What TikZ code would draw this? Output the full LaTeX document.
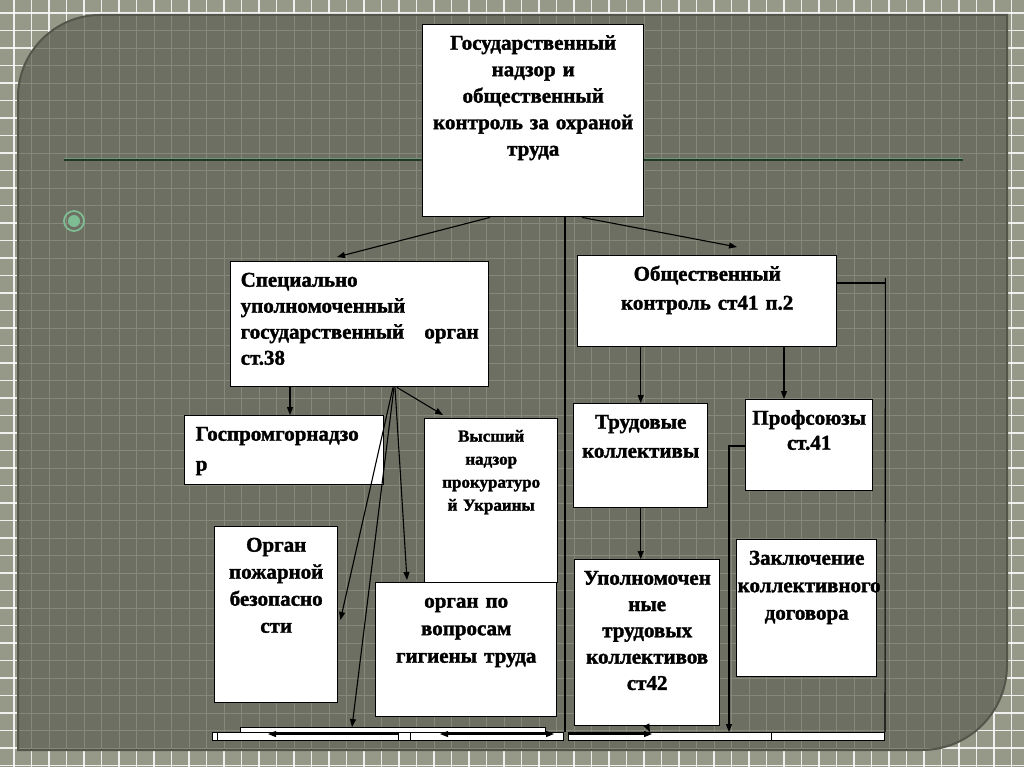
\documentclass[tikz,border=0pt]{standalone}
\usepackage{fontspec}
\setmainfont{Liberation Serif}[BoldFeatures={FakeBold=1.6}]
\usetikzlibrary{arrows.meta}
\usetikzlibrary{calc}

\definecolor{outerbg}{RGB}{150,153,136}
\definecolor{panelbg}{RGB}{109,111,98}
\definecolor{panelgrid}{RGB}{134,137,121}
\definecolor{panelrim}{RGB}{84,86,75}
\definecolor{sepline}{RGB}{36,56,42}
\definecolor{sepglow}{RGB}{112,150,120}
\definecolor{bulletc}{RGB}{126,188,148}

\newcommand{\panelshape}{(18,750) -- (18,97) .. controls (18,52) and (55,15) .. (100,15) -- (1007,15) -- (1007,665) .. controls (1007,712) and (969,750) .. (922,750) -- cycle}

\begin{document}
\begin{tikzpicture}[x=1pt,y=-1pt,
	blk/.style={draw, fill=white, line width=1.4pt, anchor=north west, inner sep=4pt, align=center, text height=21pt, font=\fontsize{21}{26.5}\selectfont\bfseries},
	strip/.style={draw, fill=white, line width=1pt, anchor=north west, inner sep=0pt, minimum height=8pt},
	arr/.style={line width=1.1pt, -{Triangle[length=8pt,width=6pt]}},
	ln/.style={line width=1.1pt}]
	\useasboundingbox (0,0) rectangle (1024,767);
	% slide background
	\fill[outerbg] (0,0) rectangle (1024,767);
	\foreach \k in {0,...,58} \draw[white, line width=1.3pt, opacity=0.85] (14+17.5*\k,0) -- ++(0,767);
	\foreach \k in {0,...,44} \draw[white, line width=1.3pt, opacity=0.85] (0,13+17.5*\k) -- ++(1024,0);
	\fill[panelbg] \panelshape;
	\begin{scope}
		\clip \panelshape;
		\foreach \k in {0,...,58} \draw[panelgrid, line width=0.8pt] (14+17.5*\k,0) -- ++(0,767);
		\foreach \k in {0,...,44} \draw[panelgrid, line width=0.8pt] (0,13+17.5*\k) -- ++(1024,0);
	\end{scope}
	\draw[panelrim, line width=2pt] \panelshape;
	\draw[sepglow, line width=0.8pt] (64,158) -- (963,158);
	\draw[sepline, line width=1.4pt] (64,160) -- (963,160);
	\draw[bulletc, line width=1.8pt] (74,221) circle [radius=10];
	\fill[bulletc] (74,221) circle [radius=6];

	% boxes
	\node[blk, text width=213pt, text depth=163pt] (gos) at (422,24) {Государственный\\надзор и\\общественный\\контроль за охраной\\труда};
	\node[blk, align=left, inner xsep=10pt, text width=238pt, text depth=96pt, font=\fontsize{21}{26}\selectfont\bfseries] (spec) at (230,261) {Специально\\уполномоченный\\государственный\hspace{0pt plus 1filll}орган\\ст.38};
	\node[blk, text width=251pt, text depth=62pt, font=\fontsize{21}{29}\selectfont\bfseries] (obsh) at (577,255) {Общественный\\контроль ст41 п.2};
	\node[blk, align=left, inner xsep=11pt, text width=177pt, text depth=40pt, font=\fontsize{21}{30}\selectfont\bfseries] (gpgn) at (184,415) {Госпромгорнадзо\\р};
	\node[blk, text width=125pt, text height=19pt, text depth=137pt, font=\fontsize{17}{23}\selectfont\bfseries] (vyssh) at (424,418) {Высший\\надзор\\прокуратуро\\й Украины};
	\node[blk, text width=115pt, text depth=147pt, font=\fontsize{21}{27}\selectfont\bfseries] (pozh) at (214,526) {Орган\\пожарной\\безопасно\\сти};
	\node[blk, text width=173pt, text depth=105pt, font=\fontsize{21}{27.5}\selectfont\bfseries] (gig) at (375,582) {орган по\\вопросам\\гигиены труда};
	\node[blk, text width=126pt, text depth=75pt, font=\fontsize{21}{29}\selectfont\bfseries] (trud) at (573,403) {Трудовые\\коллективы};
	\node[blk, text width=119pt, text depth=62pt, font=\fontsize{21}{25}\selectfont\bfseries] (prof) at (745,399) {Профсоюзы\\ст.41};
	\node[blk, text width=137pt, text depth=137pt, font=\fontsize{21}{26.3}\selectfont\bfseries] (upol) at (574,559) {Уполномочен\\ные\\трудовых\\коллективов\\ст42};
	\node[blk, inner xsep=1pt, text width=138pt, text depth=108pt, font=\fontsize{21}{27.5}\selectfont\bfseries] (zakl) at (736,539) {Заключение\\коллективного\\договора};

	% cut-off boxes at the slide edge
	\node[strip, minimum width=305pt, minimum height=5pt] (bt) at (240,727) {};
	\node[strip, minimum width=5pt] (b1) at (212,732) {};
	\node[strip, minimum width=181pt] (b2) at (217,732) {};
	\node[strip, minimum width=12pt] (b3) at (398,732) {};
	\node[strip, minimum width=153pt] (b4) at (410,732) {};
	\node[strip, minimum width=203pt] (b5) at (568,732) {};
	\node[strip, minimum width=113pt] (b6) at (771,732) {};

	% connectors
	\draw[arr] ($(gos.south west)+(68,0)$) -- ($(spec.north west)+(107,-4)$);
	\draw[arr] ($(gos.south west)+(160,0)$) -- ($(obsh.north west)+(160,-8)$);
	\coordinate (vtop) at ($(gos.south west)+(143,0)$);
	\draw[ln] (vtop) -- (vtop |- b5.north);
	\coordinate (rtop) at ($(obsh.north east)+(48,23)$);
	\draw[ln] ($(obsh.north east)+(0,28)$) -- ++(48,0);
	\draw[ln] (rtop) -- (b6.north east);
	\draw[arr] (trud.north |- obsh.south) -- (trud.north);
	\coordinate (pin) at ($(prof.north west)+(39,0)$);
	\draw[arr] (pin |- obsh.south) -- (pin);
	\draw[arr] (trud.south) -- (trud.south |- upol.north);
	\draw[arr] ($(prof.north west)+(0,47)$) -| ($(b5.north west)+(161,0)$);
	\coordinate (fan) at ($(spec.south west)+(165,0)$);
	\draw[arr] ($(spec.south west)+(60,0)$) -- ($(gpgn.north west)+(106,0)$);
	\draw[arr] ($(fan)+(2,0)$) -- ($(vyssh.north west)+(19,-3)$);
	\draw[arr] (fan) -- ($(gig.north west)+(32,-2)$);
	\draw[arr] ($(fan)+(-2,0)$) -- ($(pozh.north east)+(2,94)$);
	\draw[arr] ($(fan)+(-1,0)$) -- ($(bt.north west)+(112,0)$);
	\draw[arr] ($(b2.north east)+(0,2)$) -- ($(b2.north west)+(51,2)$);
	\draw[arr] ($(b4.north east)+(-18,2)$) -- ($(b4.north west)+(30,2)$);
	\draw[arr] ($(b4.north west)+(70,2)$) -- ($(b4.north east)+(-10,2)$);
	\draw[arr] ($(b5.north west)+(0,2)$) -- ($(b5.north west)+(84,2)$);
	\draw[arr] (upol.south) -- ($(b5.north west)+(82,0)$);
\end{tikzpicture}
\end{document}
